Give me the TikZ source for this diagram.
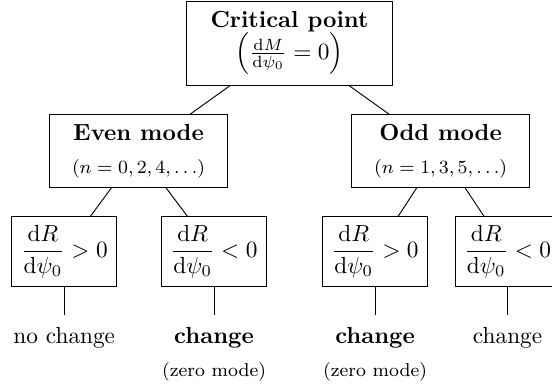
\documentclass[tikz,border=0pt]{standalone}
\usepackage{amsmath}
\usetikzlibrary{positioning}

\begin{document}
\begin{tikzpicture}[
  box/.style={draw,align=center,inner sep=2pt},
  mode/.style={box,minimum width=2.68cm,minimum height=1.1cm},
  cond/.style={box,minimum width=1.58cm,minimum height=1.06cm},
  result/.style={align=center,inner sep=5pt}]
  \useasboundingbox (0,0) rectangle (8.33,-5.78);
  % Root
  \node[box,minimum width=3.11cm,minimum height=1.27cm] (crit) at (4.37,-0.65)
    {\textbf{Critical point}\\[-1pt]$\left(\frac{\mathrm{d}M}{\mathrm{d}\psi_0}=0\right)$};
  % Parity of the mode
  \node[mode] (even) at (2.09,-2.28) {\textbf{Even mode}\\[2pt]{\footnotesize $(n=0,2,4,\ldots)$}};
  \node[mode] (odd) at (6.65,-2.28) {\textbf{Odd mode}\\[2pt]{\footnotesize $(n=1,3,5,\ldots)$}};
  % Sign of the derivative
  \node[cond] (c1) at (0.97,-3.80) {$\dfrac{\mathrm{d}R}{\mathrm{d}\psi_0}>0$};
  \node[cond] (c2) at (3.23,-3.80) {$\dfrac{\mathrm{d}R}{\mathrm{d}\psi_0}<0$};
  \node[cond] (c3) at (5.66,-3.80) {$\dfrac{\mathrm{d}R}{\mathrm{d}\psi_0}>0$};
  \node[cond] (c4) at (7.66,-3.80) {$\dfrac{\mathrm{d}R}{\mathrm{d}\psi_0}<0$};
  % Outcome
  \node[result,below=0.42cm of c1] (r1) {no change};
  \node[result,below=0.42cm of c2] (r2) {\textbf{change}\\[2pt]{\footnotesize (zero mode)}};
  \node[result,below=0.42cm of c3] (r3) {\textbf{change}\\[2pt]{\footnotesize (zero mode)}};
  \node[result,below=0.42cm of c4] (r4) {change};
  % Tree edges
  \draw (crit) -- (even);
  \draw (crit) -- (odd);
  \draw (even) -- (c1);
  \draw (even) -- (c2);
  \draw (odd) -- (c3);
  \draw (odd) -- (c4);
  \foreach \i in {1,...,4}{
    \draw (c\i) -- (r\i);
  }
\end{tikzpicture}
\end{document}
